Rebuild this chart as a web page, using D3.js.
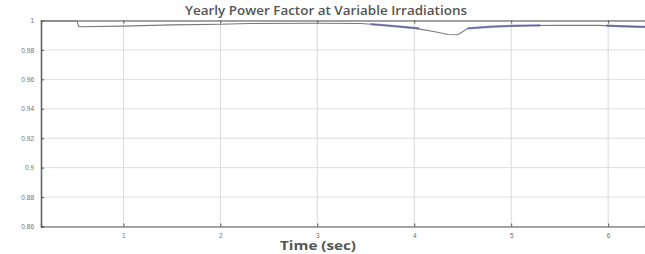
<!DOCTYPE html>
<html><head><meta charset="utf-8">
<script src="https://cdn.jsdelivr.net/npm/d3@7"></script>
<style>body{margin:0;background:#fff}svg{display:block}</style>
</head><body>
<script>
const xTicks = [1, 2, 3, 4, 5, 6];
const yTicks = [0.86, 0.88, 0.9, 0.92, 0.94, 0.96, 0.98, 1];
const yTickLabels = ["0.86", "0.88", "0.9", "0.92", "0.94", "0.96", "0.98", "1"];
// main (gray) power factor trace
const time = [0.15, 0.52, 0.54, 1.0, 1.5, 2.0, 2.3, 3.0, 3.45, 3.7, 4.0, 4.2, 4.35, 4.45, 4.55, 4.8, 5.2, 5.5, 5.9, 6.1, 6.38];
const powerFactor = [0.9997, 0.9997, 0.9958, 0.9962, 0.9970, 0.9975, 0.9980, 0.9981, 0.9980, 0.9968, 0.9948, 0.9925, 0.9905, 0.9903, 0.9946, 0.9958, 0.9966, 0.9967, 0.9967, 0.9962, 0.9957];
// ripple (blue) portions
const rippleTime = [3.55, 3.7, 3.85, 4.05, null, 4.55, 4.8, 5.0, 5.3, null, 5.98, 6.1, 6.25, 6.38];
const ripplePF = [0.9976, 0.9967, 0.9958, 0.9946, null, 0.9946, 0.9958, 0.9963, 0.9967, null, 0.9965, 0.9962, 0.9959, 0.9957];
const title = "Yearly Power Factor at Variable Irradiations";
const xLabel = "Time (sec)";

const W = 645, H = 254;
const svg = d3.select("body").append("svg").attr("width", W).attr("height", H);
const x = d3.scaleLinear().domain([0.15, 6.38]).range([41, 645]);
const y = d3.scaleLinear().domain([0.86, 1]).range([226.5, 20.5]);

// grid
svg.append("g").selectAll("line").data(xTicks).join("line")
  .attr("x1", d => x(d)).attr("x2", d => x(d)).attr("y1", y(1)).attr("y2", y(0.86))
  .attr("stroke", "#d9d9d9").attr("stroke-width", 1);
svg.append("g").selectAll("line").data(yTicks).join("line")
  .attr("x1", x(0.15)).attr("x2", W).attr("y1", d => y(d)).attr("y2", d => y(d))
  .attr("stroke", "#dedede").attr("stroke-width", 1);

// axes
const xAx = svg.append("g").attr("transform", `translate(0,${y(0.86)})`)
  .call(d3.axisBottom(x).tickValues(xTicks).tickSize(-3).tickPadding(7).tickFormat(d3.format("d")));
const xAxTop = svg.append("g").attr("transform", `translate(0,${y(1)})`)
  .call(d3.axisTop(x).tickValues(xTicks).tickSize(-3).tickFormat(""));
const yAx = svg.append("g").attr("transform", `translate(${x(0.15)},0)`)
  .call(d3.axisLeft(y).tickValues(yTicks).tickSize(-3).tickPadding(7).tickFormat((d, i) => yTickLabels[i]));
[xAx, xAxTop, yAx].forEach(g => {
  g.select(".domain").attr("stroke", "#8a8a8a").attr("stroke-width", 1.4);
  g.selectAll(".tick line").attr("stroke", "#555");
  g.selectAll("text").attr("fill", "#6f6f6f").attr("font-family", "Liberation Sans, Arial").attr("font-size", 6.5);
});
yAx.select(".domain").attr("stroke", "#666").attr("stroke-width", 1.6);

// lines
const line = d3.line().defined(d => d[0] != null).x(d => x(d[0])).y(d => y(d[1]));
svg.append("path").datum(time.map((t, i) => [t, powerFactor[i]]))
  .attr("d", line).attr("fill", "none").attr("stroke", "#7a7a7a").attr("stroke-width", 1.1);
svg.append("path").datum(rippleTime.map((t, i) => [t, ripplePF[i]]))
  .attr("d", line).attr("fill", "none").attr("stroke", "#5b5ba6").attr("stroke-width", 2.2).attr("stroke-opacity", 0.7);

// titles
svg.append("text").attr("x", 326).attr("y", 15).attr("text-anchor", "middle")
  .attr("font-family", "Open Sans, sans-serif").attr("font-weight", 600).attr("font-size", 13)
  .attr("fill", "#555").attr("textLength", 282).attr("lengthAdjust", "spacingAndGlyphs").text(title);
svg.append("text").attr("x", 318).attr("y", 250).attr("text-anchor", "middle")
  .attr("font-family", "Open Sans, sans-serif").attr("font-weight", "bold").attr("font-size", 11.5)
  .attr("fill", "#555").attr("textLength", 76).attr("lengthAdjust", "spacingAndGlyphs").text(xLabel);
</script>
</body></html>
